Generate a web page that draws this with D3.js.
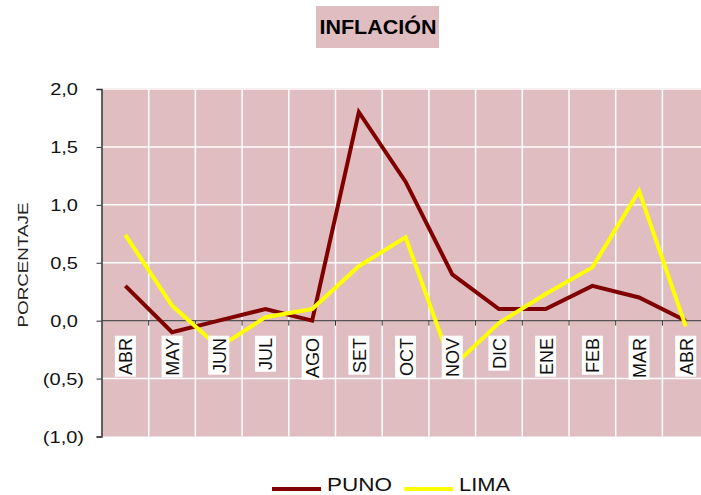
<!DOCTYPE html>
<html>
<head>
<meta charset="utf-8">
<script src="https://cdn.jsdelivr.net/npm/d3@7"></script>
<style>
  body { margin: 0; background: #fff; }
  text { font-family: Arial, "Liberation Sans", sans-serif; }
</style>
</head>
<body>
<div id="container"></div>
<script>
const months = ["ABR","MAY","JUN","JUL","AGO","SET","OCT","NOV","DIC","ENE","FEB","MAR","ABR"];
const puno = [0.3, -0.1, 0.0, 0.1, 0.0, 1.8, 1.2, 0.4, 0.1, 0.1, 0.3, 0.2, 0.0];
const lima = [0.74, 0.13, -0.23, 0.03, 0.1, 0.47, 0.72, -0.4, -0.02, 0.23, 0.46, 1.12, -0.05];
const yTicks = [2.0, 1.5, 1.0, 0.5, 0.0, -0.5, -1.0];

const w = 701, h = 495;
const plot = {left: 102, top: 89, bottom: 436.5, band: 46.7};

const svg = d3.select("#container").append("svg")
    .attr("width", w)
    .attr("height", h);

const x = d3.scaleBand()
    .domain(months.map((d, i) => i))
    .range([plot.left, plot.left + plot.band * months.length]);

const y = d3.scaleLinear()
    .domain([-1, 2])
    .range([plot.bottom, plot.top]);

// stretch text horizontally like the original rendering
function widen(sel, k) {
    sel.each(function() {
        const len = this.getComputedTextLength();
        d3.select(this)
            .attr("textLength", len * k)
            .attr("lengthAdjust", "spacingAndGlyphs");
    });
}

// background
svg.append("rect")
    .attr("x", x.range()[0])
    .attr("y", y(2) - 1)
    .attr("width", x.range()[1] - x.range()[0])
    .attr("height", y(-1) - y(2) + 1)
    .attr("fill", "#dfbdc0");

// grid
svg.selectAll(".hgrid")
    .data(yTicks.filter(d => d !== 0 && d !== -1))
    .enter().append("line")
    .attr("x1", x.range()[0]).attr("x2", x.range()[1])
    .attr("y1", d => y(d)).attr("y2", d => y(d))
    .attr("stroke", "#fff").attr("stroke-width", 1.5);

svg.selectAll(".vgrid")
    .data(months.slice(1).map((d, i) => i + 1))
    .enter().append("line")
    .attr("x1", d => x(d)).attr("x2", d => x(d))
    .attr("y1", y(2)).attr("y2", y(-1))
    .attr("stroke", "#fff").attr("stroke-width", 1.5);

// zero axis with ticks
svg.append("line")
    .attr("x1", x.range()[0]).attr("x2", x.range()[1])
    .attr("y1", y(0)).attr("y2", y(0))
    .attr("stroke", "#555").attr("stroke-width", 1.2);
svg.selectAll(".xtick")
    .data(months.slice(1).map((d, i) => i + 1))
    .enter().append("line")
    .attr("x1", d => x(d)).attr("x2", d => x(d))
    .attr("y1", y(0)).attr("y2", y(0) + 5)
    .attr("stroke", "#333").attr("stroke-width", 1);

// y axis
const yAxis = svg.append("g")
    .attr("transform", "translate(" + (plot.left - 0.5) + ",0)")
    .call(d3.axisLeft(y).tickValues(yTicks).tickSize(5).tickFormat(""));
yAxis.select(".domain").attr("stroke", "#333").attr("stroke-width", 1.5);
yAxis.selectAll(".tick line").attr("stroke", "#333");

const fmt = (d) => {
    const s = d3.format(".1f")(Math.abs(d)).replace(".", ",");
    return d < 0 ? "(" + s + ")" : s;
};
svg.selectAll(".ylabel")
    .data(yTicks)
    .enter().append("text")
    .attr("x", d => d < 0 ? 84 : 78)
    .attr("y", d => y(d) + 6)
    .attr("text-anchor", "end")
    .attr("font-size", 16)
    .attr("fill", "#111")
    .text(fmt)
    .call(widen, 1.25);

svg.append("text")
    .attr("transform", "translate(28,265) rotate(-90)")
    .attr("text-anchor", "middle")
    .attr("font-size", 15)
    .attr("textLength", 125)
    .attr("lengthAdjust", "spacingAndGlyphs")
    .attr("fill", "#222")
    .text("PORCENTAJE");

// lines
const line = d3.line()
    .x((d, i) => x(i) + x.bandwidth() / 2)
    .y(d => y(d));

svg.append("path")
    .datum(puno)
    .attr("d", line)
    .attr("fill", "none")
    .attr("stroke", "#800000")
    .attr("stroke-width", 4);

svg.append("path")
    .datum(lima)
    .attr("d", line)
    .attr("fill", "none")
    .attr("stroke", "#ffff00")
    .attr("stroke-width", 4);

// category labels on white boxes
const labels = svg.selectAll(".cat")
    .data(months)
    .enter().append("g")
    .attr("class", "cat");

labels.append("rect").attr("fill", "#fff");
labels.append("text")
    .attr("transform", (d, i) => "translate(" + (x(i) + x.bandwidth() / 2 + 7) + ",338) rotate(-90)")
    .attr("text-anchor", "end")
    .attr("font-size", 18)
    .attr("fill", "#111")
    .text(d => d);

labels.each(function(d, i) {
    const g = d3.select(this);
    const len = g.select("text").node().getComputedTextLength();
    g.select("rect")
        .attr("x", x(i) + x.bandwidth() / 2 - 10.5)
        .attr("y", 335.7)
        .attr("width", 21)
        .attr("height", len + 4);
});

// title
svg.append("rect")
    .attr("x", 316).attr("y", 6)
    .attr("width", 123).attr("height", 42)
    .attr("fill", "#dfbdc0");
svg.append("text")
    .attr("x", 378).attr("y", 34)
    .attr("text-anchor", "middle")
    .attr("font-size", 20)
    .attr("font-weight", "bold")
    .attr("textLength", 117)
    .attr("lengthAdjust", "spacingAndGlyphs")
    .text("INFLACIÓN");

// legend
const legend = svg.append("g").attr("id", "legend");
const series = [{name: "PUNO", color: "#800000", x: 272, len: 65}, {name: "LIMA", color: "#ffff00", x: 404, len: 51}];
legend.selectAll("line")
    .data(series)
    .enter().append("line")
    .attr("x1", d => d.x).attr("x2", d => d.x + 49)
    .attr("y1", 489).attr("y2", 489)
    .attr("stroke", d => d.color)
    .attr("stroke-width", 4);
legend.selectAll("text")
    .data(series)
    .enter().append("text")
    .attr("x", d => d.x + 55)
    .attr("y", 491)
    .attr("font-size", 19)
    .attr("textLength", d => d.len)
    .attr("lengthAdjust", "spacingAndGlyphs")
    .attr("fill", "#111")
    .text(d => d.name);
</script>
</body>
</html>
